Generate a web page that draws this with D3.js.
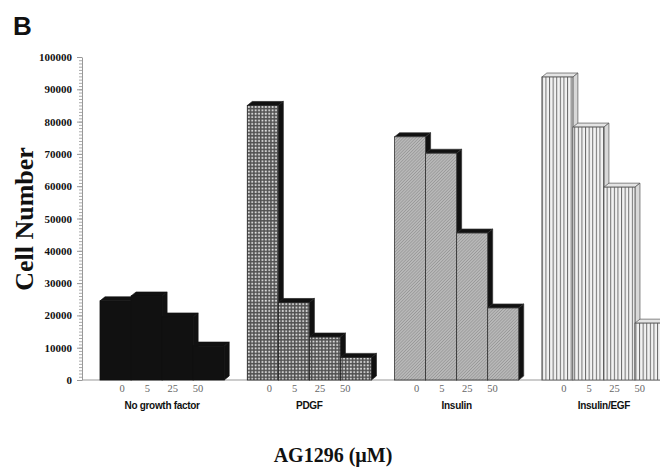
<!DOCTYPE html>
<html>
<head>
<meta charset="utf-8">
<script src="https://cdn.jsdelivr.net/npm/d3@7"></script>
<style>
  body { margin: 0; background: #fff; }
  svg { display: block; }
</style>
</head>
<body>
<div id="chart"></div>
<script>
// categories
const groups = ["No growth factor", "PDGF", "Insulin", "Insulin/EGF"];
const doses = ["0", "5", "25", "50"];

// cell numbers per dose
const noGrowthValues = [24500, 26000, 19500, 10500];
const pdgfValues = [85000, 24000, 13300, 7000];
const insulinValues = [75300, 70200, 45500, 22300];
const insulinEgfValues = [93800, 78300, 59700, 17600];

const yTicks = [0, 10000, 20000, 30000, 40000, 50000, 60000, 70000, 80000, 90000, 100000];

const seriesValues = [noGrowthValues, pdgfValues, insulinValues, insulinEgfValues];

const W = 660, H = 470;
const BASE = 380, TOP = 57;
const DX = 5, DY = 4; // 3d depth

const svg = d3.select("#chart").append("svg")
    .attr("width", W)
    .attr("height", H);

// patterns for the bar faces
const defs = svg.append("defs");

const pCheck = defs.append("pattern")
    .attr("id", "check")
    .attr("patternUnits", "userSpaceOnUse")
    .attr("width", 3.4).attr("height", 3.4);
pCheck.append("rect").attr("width", 3.4).attr("height", 3.4).attr("fill", "#505050");
pCheck.append("rect").attr("x", 0.6).attr("y", 0.6).attr("width", 1.8).attr("height", 1.8).attr("fill", "#e6e6e6");

const pDiag = defs.append("pattern")
    .attr("id", "diag")
    .attr("patternUnits", "userSpaceOnUse")
    .attr("width", 2.2).attr("height", 2.2)
    .attr("patternTransform", "rotate(45)");
pDiag.append("rect").attr("width", 2.2).attr("height", 2.2).attr("fill", "#b8b8b8");
pDiag.append("rect").attr("width", 0.7).attr("height", 2.2).attr("fill", "#969696");

const pVert = defs.append("pattern")
    .attr("id", "vert")
    .attr("patternUnits", "userSpaceOnUse")
    .attr("width", 3.6).attr("height", 4);
pVert.append("rect").attr("width", 3.6).attr("height", 4).attr("fill", "#f2f2f2");
pVert.append("rect").attr("width", 1).attr("height", 4).attr("fill", "#6e6e6e");

const styles = [
    { front: "#111", side: "#111", top: "#111", edge: "#111" },
    { front: "url(#check)", side: "#111", top: "#111", edge: "#222" },
    { front: "url(#diag)", side: "#111", top: "#111", edge: "#333" },
    { front: "url(#vert)", side: "#d8d8d8", top: "#e4e4e4", edge: "#555" }
];

// scales
const xGroup = d3.scaleBand()
    .domain(groups)
    .range([100, 666])
    .paddingInner(0.157)
    .paddingOuter(0);

const xDose = d3.scaleBand()
    .domain(doses)
    .range([0, xGroup.bandwidth()])
    .padding(0);

const xLabel = d3.scalePoint()
    .domain(doses)
    .range([22, 98]);

const y = d3.scaleLinear()
    .domain([0, 100000])
    .range([BASE, TOP]);

// baseline
svg.append("line")
    .attr("x1", 82).attr("x2", W)
    .attr("y1", BASE).attr("y2", BASE)
    .attr("stroke", "#999")
    .attr("stroke-width", 1);

// minor ticks
svg.append("g")
    .attr("transform", "translate(82,0)")
    .call(d3.axisLeft(y).tickValues(d3.range(0, 100001, 1000)).tickSize(3).tickFormat(""))
    .call(g => g.select(".domain").remove())
    .call(g => g.selectAll("line").attr("stroke", "#aaa"));

// y axis
svg.append("g")
    .attr("transform", "translate(82,0)")
    .call(d3.axisLeft(y).tickValues(yTicks).tickSize(5).tickPadding(5).tickSizeOuter(0).tickFormat(d3.format("d")))
    .call(g => g.select(".domain").attr("stroke", "#999"))
    .call(g => g.selectAll("line").attr("stroke", "#999"))
    .call(g => g.selectAll("text")
        .attr("font-family", "Liberation Serif, serif")
        .attr("font-weight", "bold")
        .attr("font-size", 11)
        .attr("fill", "#111"));

// bars
groups.forEach((grp, gi) => {
    const st = styles[gi];
    const g = svg.append("g")
        .attr("transform", `translate(${xGroup(grp)},0)`);
    const vals = seriesValues[gi];
    vals.forEach((v, i) => {
        const x0 = xDose(doses[i]);
        const w = xDose.bandwidth();
        const yt = y(v);
        // top face
        g.append("path")
            .attr("d", `M${x0},${yt}L${x0 + DX},${yt - DY}L${x0 + w + DX},${yt - DY}L${x0 + w},${yt}Z`)
            .attr("fill", st.top)
            .attr("stroke", st.edge)
            .attr("stroke-width", 0.7);
        // side face
        g.append("path")
            .attr("d", `M${x0 + w},${yt}L${x0 + w + DX},${yt - DY}L${x0 + w + DX},${BASE - DY}L${x0 + w},${BASE}Z`)
            .attr("fill", st.side)
            .attr("stroke", st.edge)
            .attr("stroke-width", 0.7);
        // front face
        g.append("rect")
            .attr("x", x0)
            .attr("y", yt)
            .attr("width", w)
            .attr("height", BASE - yt)
            .attr("fill", st.front)
            .attr("stroke", st.edge)
            .attr("stroke-width", 0.8);
    });

    // dose labels
    g.selectAll(".dose")
        .data(doses)
        .enter()
        .append("text")
        .attr("class", "dose")
        .attr("x", d => xLabel(d))
        .attr("y", 392)
        .attr("text-anchor", "middle")
        .attr("font-family", "Liberation Serif, serif")
        .attr("font-size", 10.5)
        .attr("fill", "#666")
        .text(d => d);

    // group label
    g.append("text")
        .attr("x", xGroup.bandwidth() / 2)
        .attr("y", 409)
        .attr("text-anchor", "middle")
        .attr("font-family", "Liberation Sans, Arial, sans-serif")
        .attr("font-weight", "bold")
        .attr("font-size", 10)
        .attr("letter-spacing", -0.3)
        .attr("fill", "#111")
        .text(grp);
});

// titles
svg.append("text")
    .attr("x", 13)
    .attr("y", 35)
    .attr("font-family", "Liberation Sans, Arial, sans-serif")
    .attr("font-weight", "bold")
    .attr("font-size", 26)
    .attr("fill", "#111")
    .text("B");

svg.append("text")
    .attr("transform", "translate(33,219) rotate(-90)")
    .attr("text-anchor", "middle")
    .attr("font-family", "Liberation Serif, serif")
    .attr("font-weight", "bold")
    .attr("font-size", 26)
    .attr("fill", "#111")
    .text("Cell Number");

svg.append("text")
    .attr("x", 333)
    .attr("y", 462)
    .attr("text-anchor", "middle")
    .attr("font-family", "Liberation Serif, serif")
    .attr("font-weight", "bold")
    .attr("font-size", 20)
    .attr("fill", "#111")
    .text("AG1296 (\u00b5M)");
</script>
</body>
</html>
